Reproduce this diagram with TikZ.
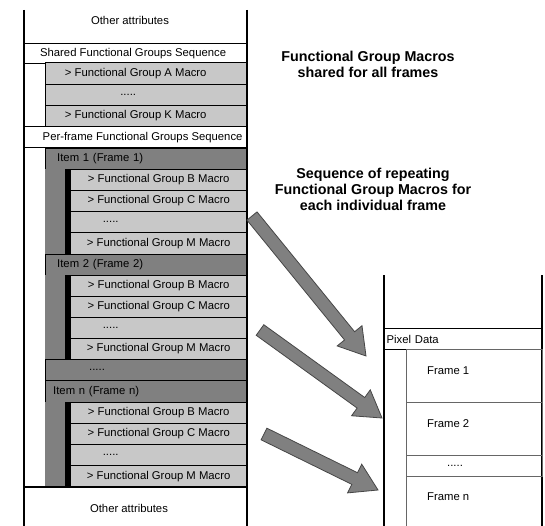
\documentclass[tikz,border=0pt]{standalone}
\usepackage{fontspec}
\setmainfont{Liberation Sans}
\usepackage{xcolor}
\usepackage{tikz}
\usetikzlibrary{positioning,calc}

\definecolor{lightrow}{RGB}{200,200,200}
\definecolor{darkrow}{RGB}{128,128,128}
\definecolor{arrowedge}{RGB}{70,70,70}

\tikzset{
  row/.style={draw, anchor=north west, inner sep=0pt, font=\fontsize{11.3}{13}\selectfont},
  seqrow/.style={row, fill=white, minimum width=223pt, minimum height=20pt, line width=1.2pt},
  macrorow/.style={row, fill=lightrow, minimum width=177pt},
  itemrow/.style={row, fill=darkrow, minimum width=202pt, minimum height=21pt, text width=178pt, align=left},
  strip/.style={fill=darkrow, draw=none},
  frame/.style={draw=darkrow!80!black, anchor=north west, minimum width=136pt, inner sep=0pt},
  plain/.style={inner sep=0pt, font=\fontsize{11.3}{13}\selectfont},
  note/.style={align=center, font=\bfseries\fontsize{14.3}{16}\selectfont},
  blockarrow/.style={fill=darkrow, draw=arrowedge, line width=0.8pt, line join=miter},
}

% block arrow from #1 to #2
\newcommand{\blockarrow}[2]{%
  \path ($(#2)!26pt!(#1)$) coordinate (hb);
  \draw[blockarrow] ($(#1)!6.5pt!90:(#2)$) -- ($(hb)!6.5pt!90:(#2)$) -- ($(hb)!16pt!90:(#2)$)
    -- (#2) -- ($(hb)!16pt!-90:(#2)$) -- ($(hb)!6.5pt!-90:(#2)$) -- ($(#1)!6.5pt!-90:(#2)$) -- cycle;}

\begin{document}
\begin{tikzpicture}[x=1pt, y=-1pt]
  \useasboundingbox (0,0) rectangle (545,526);

  % left column: functional group sequences
  \node[plain] (topattr) at (130,20) {Other attributes};
  \node[seqrow] (shared) at (24,43) {\hspace*{-6pt}Shared Functional Groups Sequence};
  \node[macrorow, minimum width=202pt, minimum height=22pt] (fga) at (45,62) {\hspace*{-21pt}> Functional Group A Macro};
  \node[macrorow, minimum width=202pt, minimum height=21pt] (fgdots) at (45,84) {\hspace*{-36pt}.....};
  \node[macrorow, minimum width=202pt, minimum height=21pt] (fgk) at (45,105) {\hspace*{-21pt}> Functional Group K Macro};
  \node[seqrow, minimum height=21pt] (perframe) at (24,126) {\hspace*{13pt}Per-frame Functional Groups Sequence};

  % item 1
  \node[itemrow] (item1) at (45,148) {Item 1 (Frame 1)};
  \fill[strip] (45,169) rectangle (65,254);
  \fill[black] (65,169) rectangle (70,254);
  \node[macrorow, minimum height=21pt] (b1) at (70,169) {> Functional Group B Macro};
  \node[macrorow, minimum height=21pt] (c1) at (70,190) {> Functional Group C Macro};
  \node[macrorow, minimum height=21pt] (d1) at (70,211) {\hspace*{-96pt}.....};
  \node[macrorow, minimum height=22pt] (m1) at (70,232) {> Functional Group M Macro};

  % item 2
  \node[itemrow] (item2) at (45,254) {Item 2 (Frame 2)};
  \fill[strip] (45,275) rectangle (65,359);
  \fill[black] (65,275) rectangle (70,359);
  \node[macrorow, minimum height=21pt] (b2) at (70,275) {> Functional Group B Macro};
  \node[macrorow, minimum height=21pt] (c2) at (70,296) {> Functional Group C Macro};
  \node[macrorow, minimum height=21pt] (d2) at (70,317) {\hspace*{-96pt}.....};
  \node[macrorow, minimum height=21pt] (m2) at (70,338) {> Functional Group M Macro};

  \node[itemrow, minimum height=21pt, text width=202pt, align=left] (itemdots) at (45,359) {\hspace*{44pt}.....};

  % item n
  \node[itemrow, minimum height=22pt] (itemn) at (45,380) {\hspace*{-4pt}Item n (Frame n)};
  \fill[strip] (45,402) rectangle (65,487);
  \fill[black] (65,402) rectangle (70,487);
  \node[macrorow, minimum height=21pt] (bn) at (70,402) {> Functional Group B Macro};
  \node[macrorow, minimum height=21pt] (cn) at (70,423) {> Functional Group C Macro};
  \node[macrorow, minimum height=21pt] (dn) at (70,444) {\hspace*{-96pt}.....};
  \node[macrorow, minimum height=22pt] (mn) at (70,465) {> Functional Group M Macro};

  \draw[line width=1.2pt] (24,487) -- (247,487);
  \node[plain] (botattr) at (129,508) {Other attributes};
  \draw[line width=1.5pt] (24,10) -- (24,526);
  \draw[line width=1.5pt] (247,10) -- (247,526);

  % notes
  \node[note] (sharednote) at (368,64) {Functional Group Macros\\shared for all frames};
  \node[note] (seqnote) at (373,189) {Sequence of repeating\\Functional Group Macros for\\each individual frame};

  % right column: pixel data
  \draw[line width=1.5pt] (384,275) -- (384,526);
  \draw[line width=1.5pt] (542,275) -- (542,526);
  \node[row, minimum width=158pt, minimum height=21pt, line width=1.2pt, text width=154pt, align=left, inner xsep=2pt] (pixel) at (384,328) {Pixel Data};
  \draw[draw=darkrow!80!black, line width=1pt] (406,349) -- (406,526);
  \node[frame, minimum height=53pt] (frame1) at (406,349) {};
  \node[frame, minimum height=53pt] (frame2) at (406,402) {};
  \node[frame, minimum height=21pt] (framedots) at (406,455) {};
  \draw[draw=darkrow!80!black] (406,476) -- (542,476);
  \node[plain, anchor=west] (f1) at (427,371) {Frame 1};
  \node[plain, anchor=west] (f2) at (427,424) {Frame 2};
  \node[plain, anchor=west] (fdots) at (447,466) {.....};
  \node[plain, anchor=west] (fn) at (427,497) {Frame n};

  % arrows
  \coordinate (t1) at (252,216);
  \coordinate (h1) at (366,356);
  \coordinate (t2) at (260,330);
  \coordinate (h2) at (382,418);
  \coordinate (t3) at (264,434);
  \coordinate (h3) at (378,490);
  \blockarrow{t1}{h1}
  \blockarrow{t2}{h2}
  \blockarrow{t3}{h3}
\end{tikzpicture}
\end{document}
